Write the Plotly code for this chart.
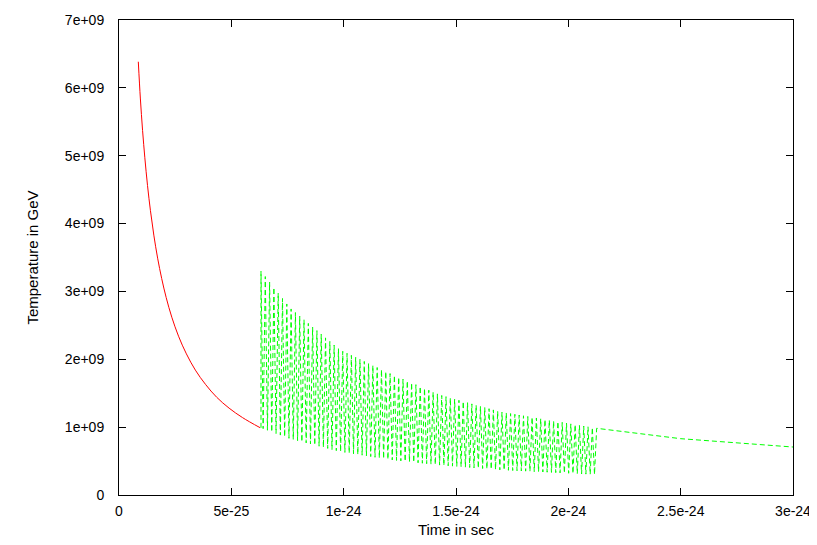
import numpy as np
import plotly.graph_objects as go

# ---- data (time in 1e-24 s, temperature in 1e9 GeV) ----
red_t = [0.0859, 0.095, 0.105, 0.115, 0.127, 0.140, 0.155, 0.172, 0.190, 0.210, 0.235,
         0.265, 0.300, 0.340, 0.385, 0.435, 0.490, 0.550, 0.628]
red_T = [6.385, 5.85, 5.37, 4.97, 4.56, 4.19, 3.83, 3.49, 3.19, 2.91, 2.62,
         2.34, 2.08, 1.84, 1.63, 1.44, 1.28, 1.14, 0.992]

# envelope of the rapidly oscillating green phase
env_t = [0.632, 0.761, 0.9835, 1.206, 1.4286, 1.6956, 2.126]
env_upper = [3.30, 2.756, 2.137, 1.79, 1.474, 1.227, 0.983]
env_lower = [0.99, 0.83, 0.64, 0.52, 0.44, 0.37, 0.30]
n_strokes = 156

# smooth green tail after the oscillation
tail_t = [2.126, 2.5, 3.0]
tail_T = [0.983, 0.83, 0.707]

x_ticks = [0, 0.5, 1.0, 1.5, 2.0, 2.5, 3.0]
x_ticktext = ["0", "5e-25", "1e-24", "1.5e-24", "2e-24", "2.5e-24", "3e-24"]
y_ticks = [0, 1, 2, 3, 4, 5, 6, 7]
y_ticktext = ["0", "1e+09", "2e+09", "3e+09", "4e+09", "5e+09", "6e+09", "7e+09"]

# ---- build traces ----
ts = 1e-24
Ts = 1e9

osc_times = np.linspace(env_t[0], env_t[-1], n_strokes + 1)
up = np.interp(osc_times, env_t, env_upper)
lo = np.interp(osc_times, env_t, env_lower)
g_t = [env_t[0]]
g_T = [env_lower[0]]
for i, t in enumerate(osc_times):
    g_t.append(t)
    g_T.append(up[i] if i % 2 == 0 else lo[i])
if n_strokes % 2 == 1:
    g_t.append(env_t[-1]); g_T.append(env_upper[-1])
g_t += tail_t[1:]
g_T += tail_T[1:]

fig = go.Figure()
fig.add_trace(go.Scatter(
    x=[v * ts for v in red_t], y=[v * Ts for v in red_T], mode="lines",
    line=dict(color="#ff0000", width=1, shape="spline", smoothing=1.0),
    showlegend=False))
fig.add_trace(go.Scatter(
    x=[v * ts for v in g_t], y=[v * Ts for v in g_T], mode="lines",
    line=dict(color="#00ff00", width=1, dash="5px,3px"),
    showlegend=False))

FONT = "Liberation Sans, Arial, sans-serif"
axis_common = dict(
    showgrid=False, zeroline=False, showline=True, linecolor="#000000", linewidth=1,
    mirror="allticks", ticks="inside", ticklen=7, tickcolor="#000000", tickwidth=1,
    automargin=False,
    tickfont=dict(family=FONT, size=14, color="#000000"),
)

# page body has an 8px margin, so the figure is shrunk and shifted accordingly
fig.update_layout(
    width=809, height=537,
    margin=dict(l=111, r=24, t=12, b=50),
    paper_bgcolor="white", plot_bgcolor="white",
    font=dict(family=FONT, size=15, color="#000000"),
    xaxis=dict(range=[0, 3e-24], tickvals=[v * ts for v in x_ticks], ticktext=x_ticktext,
               ticklabelstandoff=3,
               title=dict(text="Time in sec", standoff=6, font=dict(family=FONT, size=15)),
               **axis_common),
    yaxis=dict(range=[0, 7e9], tickvals=[v * Ts for v in y_ticks], ticktext=y_ticktext,
               ticklabelstandoff=11,
               title=dict(text="Temperature in GeV", standoff=22, font=dict(family=FONT, size=15)),
               **axis_common),
)

fig.write_html("out.html")
